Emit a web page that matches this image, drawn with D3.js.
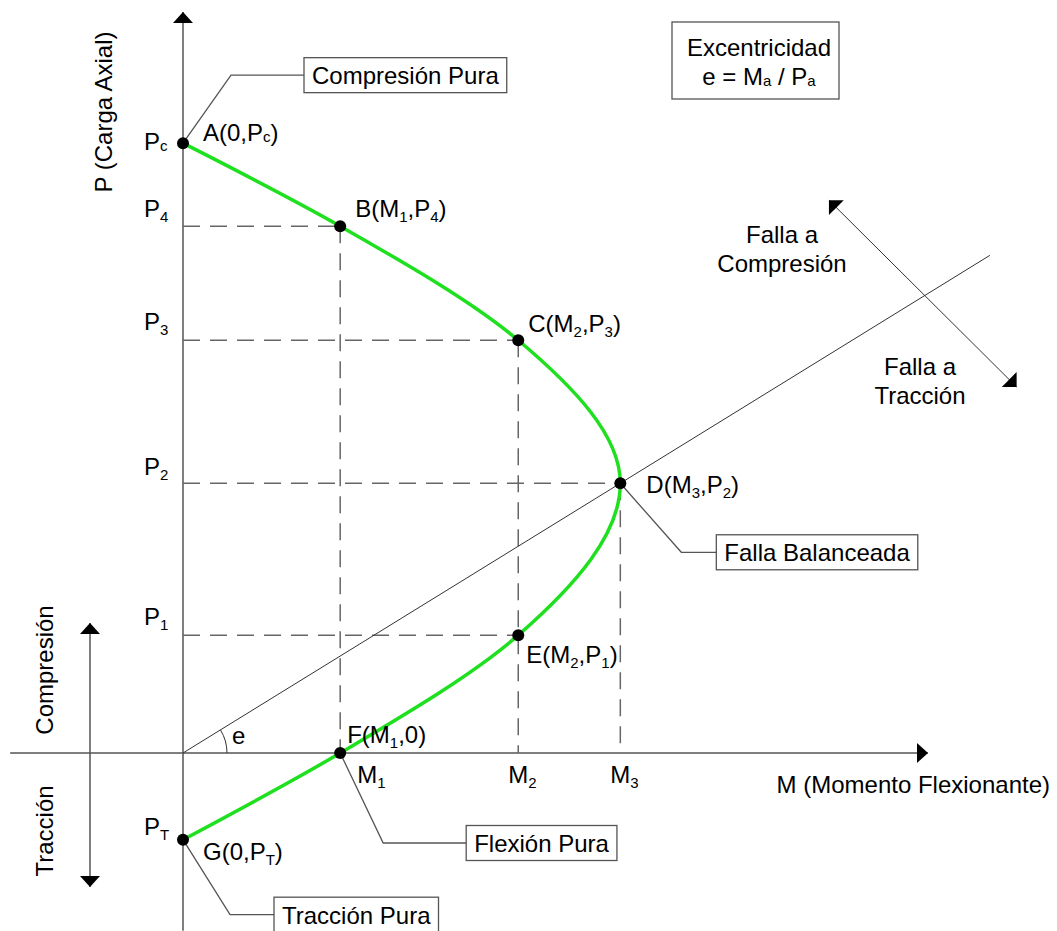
<!DOCTYPE html>
<html>
<head>
<meta charset="utf-8">
<script src="https://cdnjs.cloudflare.com/ajax/libs/d3/7.8.5/d3.min.js"></script>
<style>
  html, body { margin: 0; padding: 0; background: #fff; }
  text { font-family: "Liberation Sans", Arial, sans-serif; font-size: 24px; fill: #000; }
</style>
</head>
<body>
<div id="graph"></div>
<script>
"use strict";

// interaction diagram points (M = moment, P = axial load), arbitrary units
var pointNames = ["A", "B", "C", "D", "E", "F", "G"];
var momentVals = [0, 21.1, 45.0, 58.7, 45.0, 21.1, 0];
var axialVals = [82.3, 71.1, 55.7, 36.4, 15.9, 0, -11.7];
var pointLabels = ["A(0,P_c)", "B(M_1,P_4)", "C(M_2,P_3)", "D(M_3,P_2)", "E(M_2,P_1)", "F(M_1,0)", "G(0,P_T)"];

// tick labels on the axes
var pTickLabels = ["P_c", "P_4", "P_3", "P_2", "P_1", "P_T"];
var pTickVals = [82.3, 71.1, 55.7, 36.4, 15.9, -11.7];
var mTickLabels = ["M_1", "M_2", "M_3"];
var mTickVals = [21.1, 45.0, 58.7];

var width = 1057, height = 931;

var x = d3.scaleLinear().domain([0, 100]).range([183, 928]);
var y = d3.scaleLinear().domain([0, 100]).range([753, 12]);

var svg = d3.select("#graph")
    .append("svg")
    .attr("width", width)
    .attr("height", height);

var grey = "#555";

function richText(sel, str) {
    var parts = [], buf = "", i = 0;
    while (i < str.length) {
        if (str[i] === "_") {
            if (buf) parts.push({ t: buf, sub: false });
            buf = "";
            parts.push({ t: str[i + 1], sub: true });
            i += 2;
        } else {
            buf += str[i];
            i++;
        }
    }
    if (buf) parts.push({ t: buf, sub: false });
    var shift = 0;
    parts.forEach(function (p) {
        var d = p.sub ? (/[0-9T]/.test(p.t) ? 5 : 1) : 0;
        sel.append("tspan")
            .attr("dy", d - shift)
            .style("font-size", p.sub ? "15px" : null)
            .text(p.t);
        shift = d;
    });
    return sel;
}

function arrowHead(tx, ty, ang, len, hw) {
    // ang = direction the arrow points to (radians)
    var c = Math.cos(ang), s = Math.sin(ang);
    var bx = tx - c * len, by = ty - s * len;
    return "M" + tx + "," + ty +
        "L" + (bx - s * hw) + "," + (by + c * hw) +
        "L" + (bx + s * hw) + "," + (by - c * hw) + "Z";
}

// ---- axes
svg.append("line")
    .attr("x1", x(0)).attr("x2", x(0))
    .attr("y1", y(100)).attr("y2", y(-24))
    .attr("stroke", grey).attr("stroke-width", 1.5);
svg.append("path")
    .attr("d", arrowHead(x(0), y(100), -Math.PI / 2, 11, 10))
    .attr("fill", "#000");

svg.append("line")
    .attr("x1", x(-23.2)).attr("x2", x(100))
    .attr("y1", y(0)).attr("y2", y(0))
    .attr("stroke", grey).attr("stroke-width", 1.5);
svg.append("path")
    .attr("d", arrowHead(x(100), y(0), 0, 11, 10))
    .attr("fill", "#000");

// ---- dashed guides from B, C, D, E
var guideIdx = [1, 2, 3, 4];
guideIdx.forEach(function (i) {
    svg.append("line")
        .attr("x1", x(0)).attr("x2", x(momentVals[i]))
        .attr("y1", y(axialVals[i])).attr("y2", y(axialVals[i]))
        .attr("stroke", "#666").attr("stroke-width", 1.5)
        .attr("stroke-dasharray", "17,10");
});
[1, 2, 3].forEach(function (i) {
    svg.append("line")
        .attr("x1", x(momentVals[i])).attr("x2", x(momentVals[i]))
        .attr("y1", y(axialVals[i])).attr("y2", y(0))
        .attr("stroke", "#666").attr("stroke-width", 1.5)
        .attr("stroke-dasharray", "17,10");
});

// ---- eccentricity line through balanced point D
var slopeE = axialVals[3] / momentVals[3];
var eEnd = 108.3;
svg.append("line")
    .attr("x1", x(0)).attr("y1", y(0))
    .attr("x2", x(eEnd)).attr("y2", y(eEnd * slopeE))
    .attr("stroke", "#333").attr("stroke-width", 1);

var angE = Math.atan2(y(0) - y(10 * slopeE), x(10) - x(0));
var rArc = 44;
svg.append("path")
    .attr("d", "M" + (x(0) + rArc) + "," + y(0) +
        "A" + rArc + "," + rArc + " 0 0 0 " +
        (x(0) + rArc * Math.cos(angE)) + "," + (y(0) - rArc * Math.sin(angE)))
    .attr("fill", "none").attr("stroke", "#333").attr("stroke-width", 1);
svg.append("text").attr("x", x(0) + 49).attr("y", y(0) - 9).text("e");

// ---- failure direction arrow
var fallaFrom = [86.7, 74.6], fallaTo = [111.9, 49.4];
var fx1 = x(fallaFrom[0]), fy1 = y(fallaFrom[1]), fx2 = x(fallaTo[0]), fy2 = y(fallaTo[1]);
var fAng = Math.atan2(fy2 - fy1, fx2 - fx1);
svg.append("line")
    .attr("x1", fx1).attr("y1", fy1).attr("x2", fx2).attr("y2", fy2)
    .attr("stroke", "#333").attr("stroke-width", 1);
svg.append("path").attr("d", arrowHead(fx1, fy1, fAng + Math.PI, 10.5, 10.5)).attr("fill", "#000");
svg.append("path").attr("d", arrowHead(fx2, fy2, fAng, 10.5, 10.5)).attr("fill", "#000");

svg.append("text").attr("x", 782).attr("y", 243).attr("text-anchor", "middle").text("Falla a");
svg.append("text").attr("x", 782).attr("y", 272).attr("text-anchor", "middle").text("Compresión");
svg.append("text").attr("x", 920).attr("y", 375).attr("text-anchor", "middle").text("Falla a");
svg.append("text").attr("x", 920).attr("y", 404).attr("text-anchor", "middle").text("Tracción");

// ---- interaction curve
var pts = pointNames.map(function (n, i) {
    return { name: n, m: momentVals[i], p: axialVals[i] };
});
var line = d3.line()
    .x(function (d) { return x(d.m); })
    .y(function (d) { return y(d.p); })
    .curve(d3.curveMonotoneY);
svg.append("path")
    .datum(pts)
    .attr("d", line)
    .attr("fill", "none")
    .attr("stroke", "#1ee01e")
    .attr("stroke-width", 3.5);

// ---- callouts (leader + boxed label)
var calloutText = ["Compresión Pura", "Falla Balanceada", "Flexión Pura", "Tracción Pura"];
var calloutPoint = [0, 3, 5, 6];
var calloutElbow = [[48, -68], [61, 69], [43, 90], [47, 75]];
var calloutGap = [73, 35, 83, 44];
calloutText.forEach(function (t, k) {
    var d = pts[calloutPoint[k]];
    var px = x(d.m), py = y(d.p);
    var ex = px + calloutElbow[k][0], ey = py + calloutElbow[k][1];
    var bx = ex + calloutGap[k];
    svg.append("path")
        .attr("d", "M" + px + "," + py + "L" + ex + "," + ey + "L" + bx + "," + ey)
        .attr("fill", "none").attr("stroke", grey).attr("stroke-width", 1.3);
    var txt = svg.append("text").attr("x", bx + 8).attr("y", ey + 9).text(t);
    var w = txt.node().getComputedTextLength();
    svg.insert("rect", "text")
        .attr("x", bx).attr("y", ey - 17.5)
        .attr("width", w + 16).attr("height", 35)
        .attr("fill", "#fff").attr("stroke", grey).attr("stroke-width", 1.3);
});

// ---- points and labels
var labelOffsets = [[20, -2], [15, -9], [10, -8], [26, 10], [8, 28], [7, -10], [20, 20]];
svg.selectAll("circle.pt")
    .data(pts)
    .enter()
    .append("circle")
    .attr("class", "pt")
    .attr("cx", function (d) { return x(d.m); })
    .attr("cy", function (d) { return y(d.p); })
    .attr("r", 6)
    .attr("fill", "#000");
pts.forEach(function (d, i) {
    richText(svg.append("text")
        .attr("x", x(d.m) + labelOffsets[i][0])
        .attr("y", y(d.p) + labelOffsets[i][1]), pointLabels[i]);
});

// ---- axis tick labels
var pTickShift = [7, -9, -10, -8, -10, -5];
pTickLabels.forEach(function (t, i) {
    richText(svg.append("text")
        .attr("x", x(0) - 39)
        .attr("y", y(pTickVals[i]) + pTickShift[i]), t);
});
mTickLabels.forEach(function (t, i) {
    var tx = svg.append("text")
        .attr("x", x(mTickVals[i]) + (i === 0 ? 17 : -10))
        .attr("y", y(0) + 30);
    richText(tx, t);
});

// ---- axis titles
svg.append("text").attr("x", 1050).attr("y", 793).attr("text-anchor", "end")
    .text("M (Momento Flexionante)");
svg.append("text").attr("text-anchor", "middle")
    .attr("transform", "translate(112,112) rotate(-90)")
    .text("P (Carga Axial)");

// ---- compression / tension side indicator
var sideX = 90;
svg.append("line").attr("x1", sideX).attr("x2", sideX).attr("y1", 623).attr("y2", 887)
    .attr("stroke", grey).attr("stroke-width", 1.5);
svg.append("path").attr("d", arrowHead(sideX, 623, -Math.PI / 2, 11, 10)).attr("fill", "#000");
svg.append("path").attr("d", arrowHead(sideX, 887, Math.PI / 2, 11, 10)).attr("fill", "#000");
svg.append("text").attr("text-anchor", "middle")
    .attr("transform", "translate(53,670) rotate(-90)").text("Compresión");
svg.append("text").attr("text-anchor", "middle")
    .attr("transform", "translate(53,831) rotate(-90)").text("Tracción");

// ---- eccentricity box
svg.append("rect").attr("x", 672).attr("y", 22).attr("width", 167).attr("height", 77)
    .attr("fill", "#fff").attr("stroke", grey).attr("stroke-width", 1.3);
svg.append("text").attr("x", 759).attr("y", 56).attr("text-anchor", "middle").text("Excentricidad");
richText(svg.append("text").attr("x", 759).attr("y", 85).attr("text-anchor", "middle"), "e = M_a / P_a");
</script>
</body>
</html>
